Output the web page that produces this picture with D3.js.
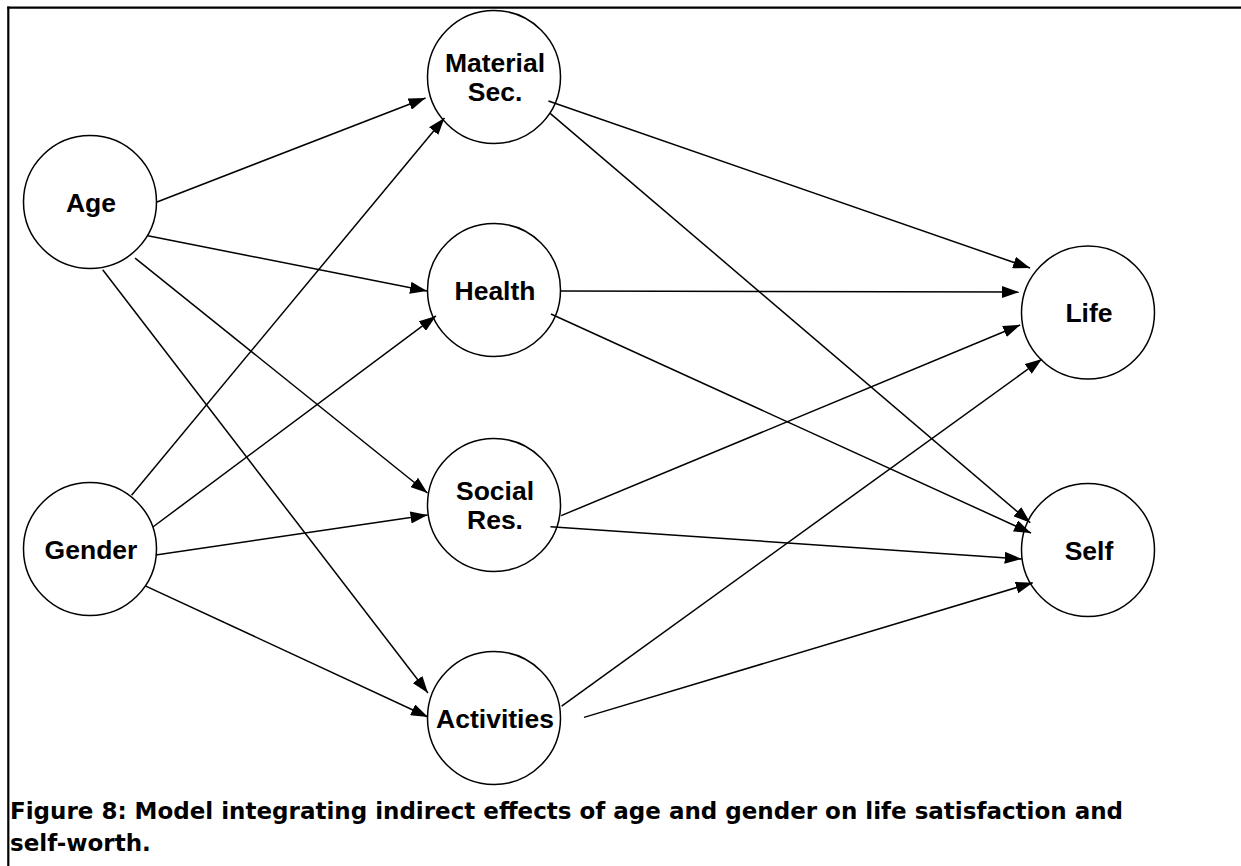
<!DOCTYPE html>
<html>
<head>
<meta charset="utf-8">
<script src="https://cdn.jsdelivr.net/npm/d3@7"></script>
<style>
  body { margin: 0; background: #fff; }
</style>
</head>
<body>
<div id="chart"></div>
<script>
const width = 1241;
const height = 866;

// nodes of the path model
const nodeIds = ['age', 'gender', 'material', 'health', 'social', 'activities', 'life', 'self'];
const nodeLabels = [['Age'], ['Gender'], ['Material', 'Sec.'], ['Health'], ['Social', 'Res.'], ['Activities'], ['Life'], ['Self']];

// directed paths (source -> target)
const edgeSources = ['age', 'age', 'age', 'age', 'gender', 'gender', 'gender', 'gender',
  'material', 'material', 'health', 'health', 'social', 'social', 'activities', 'activities'];
const edgeTargets = ['material', 'health', 'social', 'activities', 'material', 'health', 'social', 'activities',
  'life', 'self', 'life', 'self', 'life', 'self', 'life', 'self'];

const caption = ['Figure 8: Model integrating indirect effects of age and gender on life satisfaction and',
  'self-worth.'];

// layout: column / row of every node, and where each arrow leaves / meets its circle
const nodeLayout = {
  age: [0, 202], gender: [0, 549],
  material: [1, 77], health: [1, 290], social: [1, 505], activities: [1, 718],
  life: [2, 312.5], self: [2, 550]
};
// [start angle, start dist, end angle, end dist]
const edgeAnchors = [
  [0, 67, 163, 71.6], [30.3, 67, 179.1, 67], [51.2, 72, 190.2, 67.6], [79.4, 69, 200.7, 70.6],
  [-52.3, 68, 140.4, 64.3], [-19.4, 67, 155.9, 63.6], [5.2, 66, 171.4, 67.2], [33.6, 67, 180.9, 66],
  [23.8, 59.5, 217.5, 73], [32.9, 66.9, 205.3, 63.8], [0.9, 67, 196.5, 72], [22.8, 61.8, 196.6, 59.5],
  [9, 68, 169.6, 69], [21, 60.5, 172.3, 66.9], [-10, 68.7, 134.7, 65.4], [-0.4, 90, 149.4, 64.2]
];

const radius = 66.5;
const x = d3.scaleOrdinal().domain([0, 1, 2]).range([90, 494, 1088]);

const svg = d3.select('#chart')
  .append('svg')
  .attr('width', width)
  .attr('height', height);

svg.append('defs').append('marker')
  .attr('id', 'arrow')
  .attr('viewBox', '0 0 17 12')
  .attr('refX', 17)
  .attr('refY', 6)
  .attr('markerWidth', 17)
  .attr('markerHeight', 12)
  .attr('markerUnits', 'userSpaceOnUse')
  .attr('orient', 'auto')
  .append('path')
  .attr('d', 'M0,0 L17,6 L0,12 Z')
  .style('fill', 'black');

// frame: top and left rules
svg.append('line')
  .attr('x1', 7.3).attr('y1', 7.7).attr('x2', width).attr('y2', 7.7)
  .style('stroke', 'black').style('stroke-width', 2.2);
svg.append('line')
  .attr('x1', 8.3).attr('y1', 6.6).attr('x2', 8.3).attr('y2', height)
  .style('stroke', 'black').style('stroke-width', 2.2);

const nodes = nodeIds.map(function (id, i) {
  return { id: id, label: nodeLabels[i], cx: x(nodeLayout[id][0]), cy: nodeLayout[id][1] };
});
const byId = {};
nodes.forEach(function (n) { byId[n.id] = n; });

function pointOn(n, angle, dist) {
  const a = angle * Math.PI / 180;
  return { x: n.cx + dist * Math.cos(a), y: n.cy + dist * Math.sin(a) };
}

const edges = edgeSources.map(function (s, i) {
  const an = edgeAnchors[i];
  const p0 = pointOn(byId[s], an[0], an[1]);
  const p1 = pointOn(byId[edgeTargets[i]], an[2], an[3]);
  return [p0, p1];
});

const lineFunction = d3.line()
  .x(function (d) { return d.x; })
  .y(function (d) { return d.y; });

const nodeG = svg.selectAll('g.node')
  .data(nodes)
  .enter().append('g')
  .attr('class', 'node');

nodeG.append('circle')
  .attr('cx', function (d) { return d.cx; })
  .attr('cy', function (d) { return d.cy; })
  .attr('r', radius)
  .style('fill', 'white')
  .style('stroke', 'black')
  .style('stroke-width', 1.5);

svg.selectAll('path.edge')
  .data(edges)
  .enter().append('path')
  .attr('class', 'edge')
  .attr('d', lineFunction)
  .style('fill', 'none')
  .style('stroke', 'black')
  .style('stroke-width', 1.5)
  .attr('marker-end', 'url(#arrow)');

nodeG.each(function (d) {
  const lines = d.label;
  const lh = 29;
  const first = d.cy + 9.5 - (lines.length - 1) * lh / 2;
  const t = d3.select(this).append('text')
    .attr('text-anchor', 'middle')
    .style('font-family', '"Liberation Sans", Arial, sans-serif')
    .style('font-weight', 'bold')
    .style('font-size', '26.5px');
  lines.forEach(function (l, i) {
    t.append('tspan')
      .attr('x', d.cx + 1)
      .attr('y', first + i * lh)
      .text(l);
  });
});

svg.selectAll('text.caption')
  .data(caption)
  .enter().append('text')
  .attr('class', 'caption')
  .attr('x', 10)
  .attr('y', function (d, i) { return 819 + i * 32; })
  .style('font-family', '"DejaVu Sans", Verdana, sans-serif')
  .style('font-weight', 'bold')
  .style('font-size', '23px')
  .text(function (d) { return d; });
</script>
</body>
</html>
